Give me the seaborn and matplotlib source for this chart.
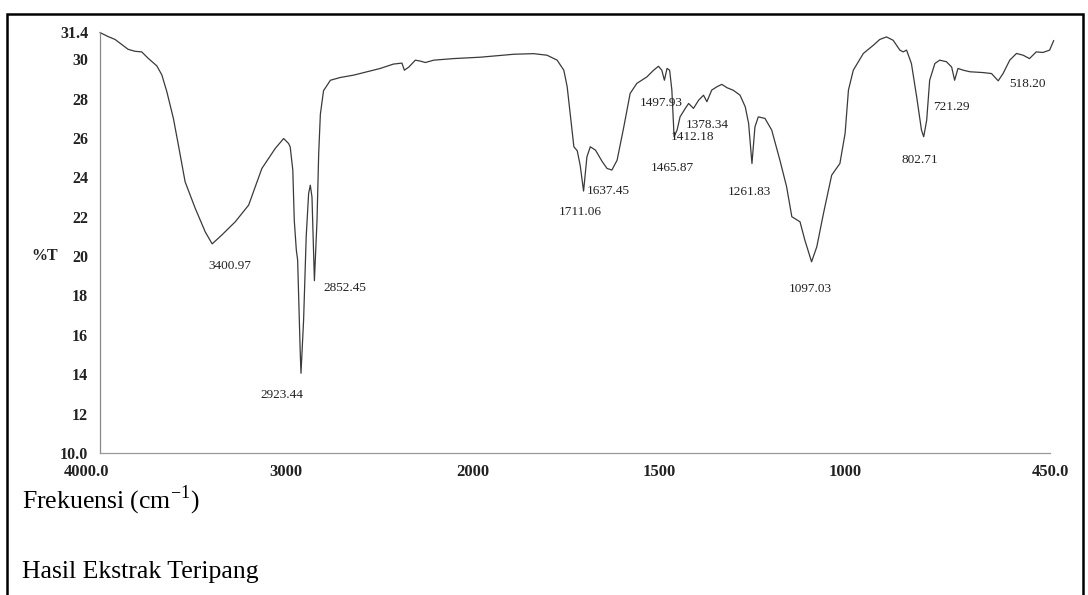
import numpy as np
import matplotlib
matplotlib.use("Agg")
import matplotlib.pyplot as plt
import matplotlib.transforms as mtransforms
from matplotlib.patches import Rectangle
import seaborn as sns

# ---- data ----
wavenumber = [4000, 3957, 3919, 3849, 3812, 3776, 3742, 3695, 3668, 3641, 3606,
              3579, 3543, 3489, 3435, 3398, 3346, 3274, 3202, 3131, 3059, 3014,
              2988, 2979, 2965, 2957, 2946, 2939, 2925, 2921, 2907, 2893, 2880,
              2871, 2862, 2853, 2849, 2835, 2826, 2817, 2800, 2763, 2710, 2638,
              2567, 2495, 2425, 2379, 2366, 2342, 2307, 2280, 2253, 2208, 2101,
              1979, 1889, 1836, 1800, 1773, 1755, 1746, 1737, 1728, 1719, 1711,
              1702, 1693, 1684, 1670, 1652, 1639, 1626, 1612, 1594, 1577, 1559,
              1532, 1514, 1501, 1492, 1485, 1478, 1471, 1465, 1459, 1451, 1443,
              1429, 1420, 1407, 1393, 1380, 1371, 1358, 1344, 1331, 1317, 1300,
              1282, 1268, 1259, 1250, 1242, 1233, 1215, 1197, 1175, 1157, 1143,
              1121, 1108, 1090, 1076, 1058, 1036, 1014, 1000, 991, 978, 951, 924,
              907, 889, 871, 853, 844, 835, 822, 808, 795, 789, 781, 773, 759,
              746, 728, 714, 706, 697, 683, 665, 630, 607, 589, 576, 558, 540,
              522, 505, 487, 469, 451, 440]
transmittance = [31.35, 31.15, 31.0, 30.5, 30.4, 30.37, 30.05, 29.66, 29.2, 28.34, 26.99,
                 25.63, 23.77, 22.43, 21.23, 20.62, 21.07, 21.74, 22.59, 24.45, 25.47, 25.97,
                 25.72, 25.55, 24.37, 21.8, 20.3, 19.8, 15.08, 14.05, 16.75, 21.0, 23.18,
                 23.6, 23.0, 20.15, 18.75, 21.8, 25.2, 27.2, 28.4, 28.93, 29.07, 29.19,
                 29.36, 29.53, 29.75, 29.8, 29.44, 29.6, 29.95, 29.9, 29.83, 29.95, 30.03,
                 30.1, 30.25, 30.28, 30.2, 29.95, 29.44, 28.6, 27.07, 25.55, 25.35, 24.6,
                 23.3, 25.04, 25.55, 25.38, 24.8, 24.45, 24.37, 24.87, 26.56, 28.26, 28.77,
                 29.1, 29.44, 29.64, 29.44, 28.93, 29.53, 29.44, 28.43, 26.06, 26.4, 27.07,
                 27.5, 27.75, 27.5, 27.92, 28.17, 27.84, 28.43, 28.6, 28.72, 28.55, 28.42,
                 28.17, 27.58, 26.74, 24.7, 26.56, 27.07, 26.99, 26.4, 24.87, 23.52, 22.0,
                 21.74, 20.81, 19.71, 20.47, 22.17, 24.11, 24.7, 26.23, 28.43, 29.44, 30.29, 30.71,
                 31.0, 31.13, 30.96, 30.46, 30.37, 30.46, 29.78, 28.1, 26.4, 26.06, 26.9, 28.93, 29.78,
                 29.95, 29.87, 29.6, 28.93, 29.53, 29.44, 29.36, 29.32, 29.27, 28.9, 29.27, 29.95, 30.29,
                 30.2, 30.03, 30.37, 30.34, 30.46, 30.95]

peak_labels = ["3400.97", "2923.44", "2852.45", "1711.06", "1637.45", "1497.93",
               "1378.34", "1412.18", "1465.87", "1261.83", "1097.03", "802.71",
               "721.29", "518.20"]
label_wn = [3301, 3022, 2683, 1711, 1636, 1493, 1370, 1410, 1464, 1258, 1094, 799, 714, 510]
label_T = [19.49, 12.94, 18.38, 22.23, 23.3, 27.77, 26.65, 26.04, 24.47, 23.25, 18.32,
           24.87, 27.56, 28.73]

x_ticks = [4000, 3000, 2000, 1500, 1000, 500, 450]
x_tick_labels = ["4000.0", "3000", "2000", "1500", "1000", "", "450.0"]
y_ticks = [10, 12, 14, 16, 18, 20, 22, 24, 26, 28, 30, 31.4]
y_tick_labels = ["10.0", "12", "14", "16", "18", "20", "22", "24", "26", "28", "30", "31.4"]


# FTIR chart: the scale doubles below 2000 cm-1
def forward(x):
    x = np.asarray(x, dtype=float)
    return np.where(x >= 2000, x, 2 * x - 2000)


def inverse(u):
    u = np.asarray(u, dtype=float)
    return np.where(u >= 2000, u, (u + 2000) / 2)


sns.set_theme(style="white")
plt.rcParams["font.family"] = ["Liberation Serif", "DejaVu Serif"]
plt.rcParams["mathtext.fontset"] = "custom"
plt.rcParams["mathtext.rm"] = "Liberation Serif"

fig = plt.figure(figsize=(10.88, 5.95), dpi=100)
ax = fig.add_axes([100 / 1088, 142 / 595, 950 / 1088, 421.4 / 595])

sns.lineplot(x=wavenumber, y=transmittance, sort=False, estimator=None,
             color="#3a3a3a", linewidth=0.9, ax=ax)
ax.lines[0].set_clip_on(False)

ax.set_xscale("function", functions=(forward, inverse))
ax.set_xlim(4000, 450)
ax.set_ylim(10, 31.4)

ax.set_xticks(x_ticks)
ax.set_xticklabels(x_tick_labels, fontsize=12, fontweight="bold", color="#222222")
ax.set_yticks(y_ticks)
ax.set_yticklabels(y_tick_labels, fontsize=11.5, fontweight="bold", color="#222222")
ax.tick_params(axis="both", direction="out", length=3.5, width=0.8, color="#777777")
ax.tick_params(axis="x", pad=4.5)
ax.tick_params(axis="y", pad=5)

# first x label sits left of its tick in the scan
shift = mtransforms.ScaledTranslation(-0.13, 0, fig.dpi_scale_trans)
first = ax.get_xticklabels()[0]
first.set_transform(first.get_transform() + shift)

for side in ["top", "right"]:
    ax.spines[side].set_visible(False)
ax.spines["left"].set_color("#888888")
ax.spines["bottom"].set_color("#999999")
ax.spines["left"].set_linewidth(0.9)
ax.spines["bottom"].set_linewidth(0.9)

ax.set_xlabel("")
ax.set_ylabel("%T", rotation=0, fontsize=11.5, fontweight="bold", color="#222222",
              ha="center", va="center")
ax.yaxis.set_label_coords(-55 / 950, 0.467)

for txt, xw, yt in zip(peak_labels, label_wn, label_T):
    ax.text(xw, yt, txt, fontsize=9.5, ha="center", va="center", color="#222222")

# page text under the scan
fig.text(22 / 1088, 87 / 595, "Frekuensi (cm$^{\\mathrm{-1}}$)", fontsize=18.5,
         ha="left", va="baseline", color="black")
fig.text(22 / 1088, 17 / 595, "Hasil Ekstrak Teripang", fontsize=18.5,
         ha="left", va="baseline", color="black")

# page border
fig.patches.append(Rectangle((7 / 1088, -0.05), 1076 / 1088, 1.05 - 14 / 595,
                             transform=fig.transFigure, fill=False,
                             edgecolor="black", linewidth=1.8))

fig.savefig("out.png", dpi=100)
